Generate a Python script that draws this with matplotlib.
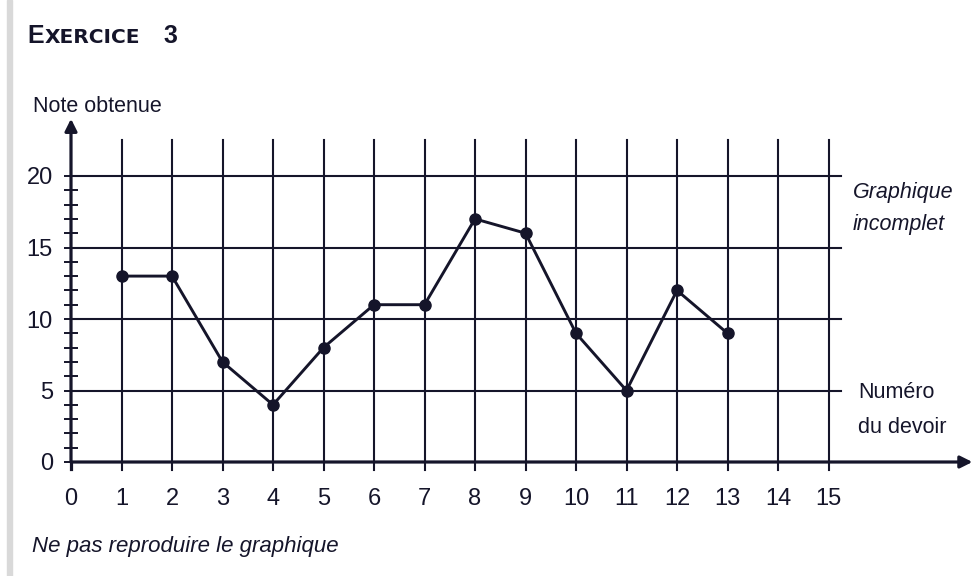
import matplotlib
matplotlib.use("Agg")
import matplotlib.pyplot as plt
from matplotlib import font_manager

# Notes obtenues aux devoirs successifs
devoirs = [1, 2, 3, 4, 5, 6, 7, 8, 9, 10, 11, 12, 13]
notes = [13, 13, 7, 4, 8, 11, 11, 17, 16, 9, 5, 12, 9]
x_ticks = list(range(0, 16))
y_ticks = [0, 5, 10, 15, 20]

INK = "#15152a"
W, H = 978, 576

available = {f.name for f in font_manager.fontManager.ttflist}
SANS = "Liberation Sans" if "Liberation Sans" in available else "DejaVu Sans"
NARROW = "Liberation Sans Narrow" if "Liberation Sans Narrow" in available else SANS
plt.rcParams["font.family"] = [SANS, "DejaVu Sans"]

fig = plt.figure(figsize=(W / 100, H / 100), dpi=100)
fig.patch.set_facecolor("white")

# pixel-based placement of the axes: 0 at x=71 px, 50.5 px per unit;
# 0 at y=462 px, 14.3 px per unit
x0_px, ux = 71, 50.5
y0_px, uy = 462, 14.3
xmax, ymax = 18.0, 24.3
ax = fig.add_axes([x0_px / W, 1 - y0_px / H, xmax * ux / W, ymax * uy / H])
ax.set_xlim(0, xmax)
ax.set_ylim(0, ymax)
ax.patch.set_alpha(0)
for s in ax.spines.values():
    s.set_visible(False)

def px(x, y):
    return x / W, 1 - y / H

# grey strip along the left edge of the page
fig.add_artist(plt.Rectangle(px(7, H), 5 / W, 1, transform=fig.transFigure,
                             color="#d9d9d9", zorder=0))

# grid
for yv in y_ticks[1:]:
    ax.plot([0, 15.25], [yv, yv], color=INK, lw=1.5, zorder=1, clip_on=False)
for xv in x_ticks[1:]:
    ax.plot([xv, xv], [-0.55, 22.5], color=INK, lw=1.5, zorder=1, clip_on=False)

# axes with arrows
arrow = dict(arrowstyle="-|>", color=INK, lw=2.3, mutation_scale=18,
             shrinkA=0, shrinkB=0)
ax.plot([0, 0], [-0.5, 0], color=INK, lw=2.3, zorder=2, clip_on=False)
ax.annotate("", xy=(0, 24.0), xytext=(0, 0), arrowprops=arrow,
            annotation_clip=False, zorder=2)
ax.annotate("", xy=(17.85, 0), xytext=(0, 0), arrowprops=arrow,
            annotation_clip=False, zorder=2)

# ticks
ax.set_xticks(x_ticks)
ax.set_xticklabels([str(v) for v in x_ticks], fontsize=17, family=NARROW, color=INK)
ax.tick_params(axis="x", length=0, pad=19)
ax.set_yticks(y_ticks)
ax.set_yticklabels([str(v) for v in y_ticks], fontsize=17, family=NARROW, color=INK)
ax.set_yticks(range(0, 21), minor=True)
ax.tick_params(axis="y", which="both", direction="inout", length=10, width=1.4,
               color=INK, pad=8)

# data
ax.plot(devoirs, notes, color=INK, lw=2.1, marker="o", markersize=8, zorder=3)

# texts
fig.text(*px(27, 43), "E", fontsize=18, fontweight="bold", color=INK, va="baseline")
fig.text(*px(45, 43), "XERCICE", fontsize=14.5, fontweight="bold", family="DejaVu Sans",
         color=INK, va="baseline")
fig.text(*px(163, 43), "3", fontsize=18, fontweight="bold", color=INK, va="baseline")

fig.text(*px(33, 112), "Note obtenue", fontsize=15.5, color=INK, va="baseline")
fig.text(*px(853, 198), "Graphique", fontsize=15.5, style="italic", color=INK, va="baseline")
fig.text(*px(853, 230), "incomplet", fontsize=15.5, style="italic", color=INK, va="baseline")
fig.text(*px(858, 398), "Numéro", fontsize=15.5, color=INK, va="baseline")
fig.text(*px(858, 433), "du devoir", fontsize=15.5, color=INK, va="baseline")
fig.text(*px(32, 552), "Ne pas reproduire le graphique", fontsize=16, style="italic",
         color=INK, va="baseline")

fig.savefig("out.png", dpi=100, facecolor="white")
